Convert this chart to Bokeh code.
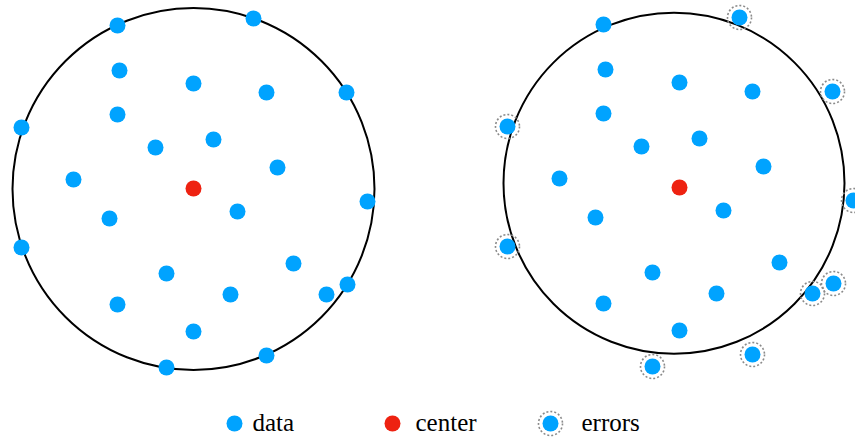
from bokeh.plotting import figure
from bokeh.models import Range1d, Label
from bokeh.embed import file_html
from bokeh.resources import INLINE

# ---- data (offsets from the left panel's center, y up) ----
data_x = [-76, 60, -74, 0, 73, 153, -172, -76, -38, 20, 84, -120, -84, 44,
          174, -172, 100, -27, 37, -76, 133, 154, 0, -27, 73]
data_y = [163, 170, 118, 105, 96, 96, 61, 74, 41, 49, 21, 9, -30, -23,
          -13, -59, -75, -85, -106, -116, -106, -96, -143, -179, -167]
# indices of points flagged as errors in the right panel
error_idx = [1, 5, 6, 14, 15, 20, 21, 23, 24]

# panel shifts (center point of each panel)
centers_x = [0, 486]
centers_y = [0, 1]
# fitted circles
circle_x = [0, 480.5]
circle_y = [-0.5, 5.3]
radii = [181, 170.5]

legend_labels = ["data", "center", "errors"]

BLUE = "#00A3FF"
RED = "#EE2211"
FONT = "Liberation Serif"

W, H = 855, 437
p = figure(width=W, height=H, output_backend="svg", toolbar_location=None,
           x_range=Range1d(-193, -193 + W), y_range=Range1d(188 - H, 188),
           min_border=0, outline_line_color=None)
p.axis.visible = False
p.grid.visible = False
p.background_fill_color = "white"

# panels
for k in range(2):
    cx, cy = centers_x[k], centers_y[k]
    xs = [x + cx for x in data_x]
    ys = [y + cy for y in data_y]
    p.circle(x=[circle_x[k]], y=[circle_y[k]], radius=radii[k], fill_color=None,
             line_color="black", line_width=2)
    if k == 1:
        ex = [xs[i] for i in error_idx]
        ey = [ys[i] for i in error_idx]
        p.scatter(ex, ey, size=24, marker="circle", fill_color=None,
                  line_color="#8a8a8a", line_width=1.6, line_dash="2 2")
    p.scatter(xs, ys, size=16, marker="circle", fill_color=BLUE, line_color=None)
    p.scatter([cx], [cy], size=16, marker="circle", fill_color=RED, line_color=None)

# legend (manual, below the panels)
LEG_Y = -235
p.scatter([41], [LEG_Y], size=16, fill_color=BLUE, line_color=None)
p.scatter([199], [LEG_Y], size=16, fill_color=RED, line_color=None)
p.scatter([357], [LEG_Y], size=24, fill_color=None, line_color="#8a8a8a",
          line_width=1.6, line_dash="2 2")
p.scatter([357], [LEG_Y], size=16, fill_color=BLUE, line_color=None)
for lx, lab in zip([59, 222, 388], legend_labels):
    p.add_layout(Label(x=lx, y=LEG_Y + 1, text=lab, text_font=FONT,
                       text_font_size="25px", text_color="black",
                       text_baseline="middle", text_align="left"))

open("out.html", "w").write(file_html(p, INLINE))
